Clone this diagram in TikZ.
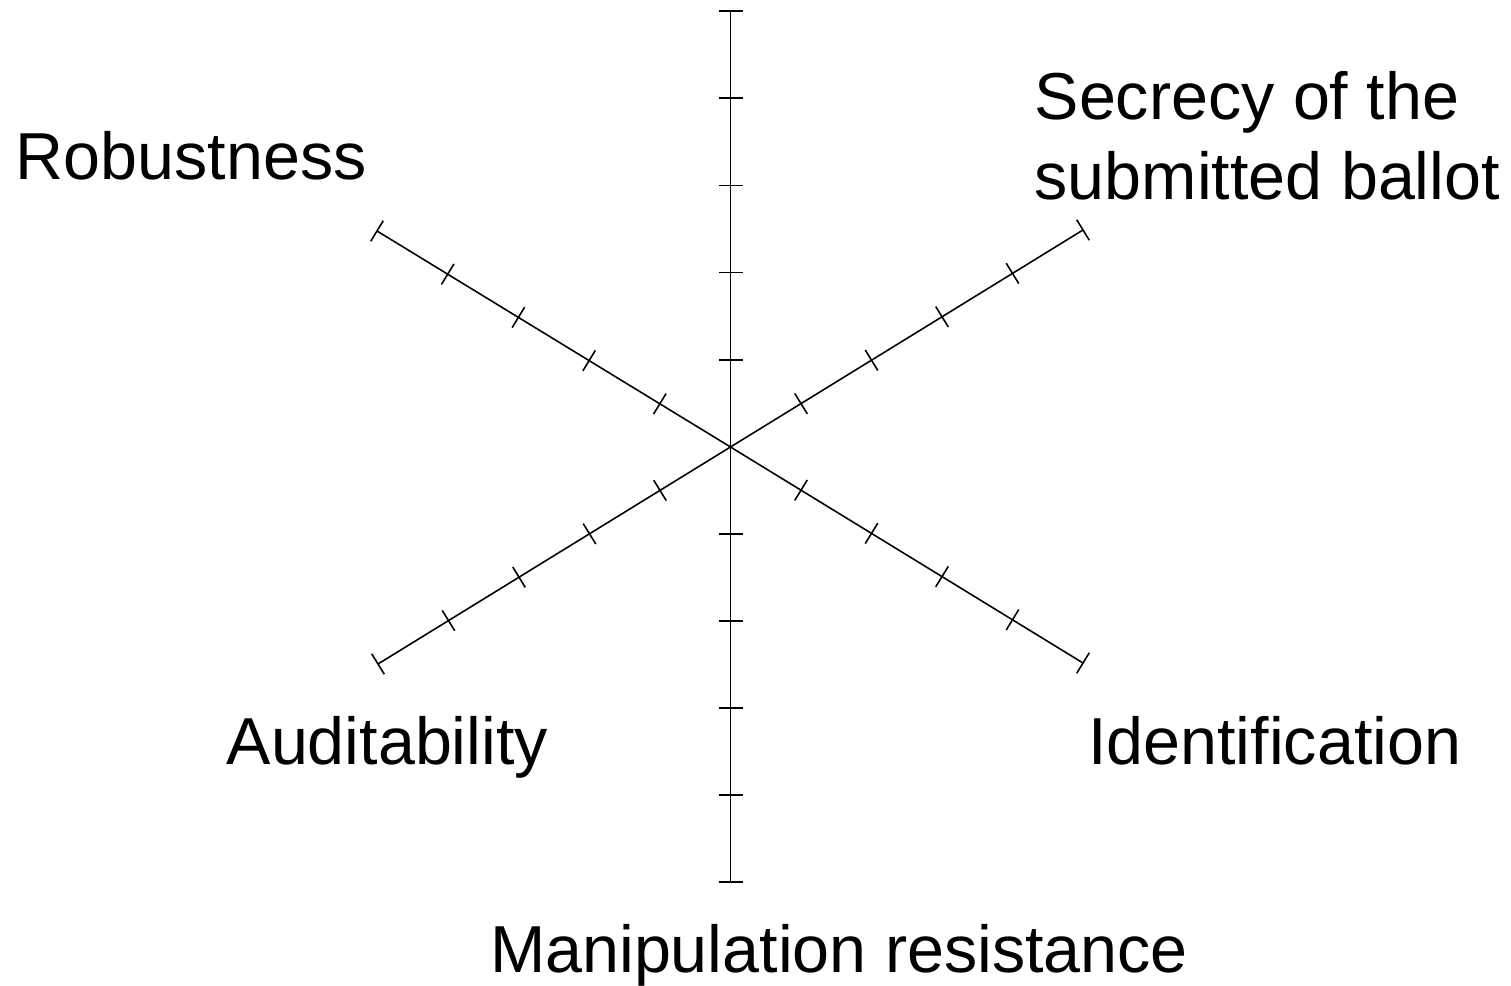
\documentclass[tikz,border=0pt]{standalone}
\usepackage{fontspec}
\setmainfont{Liberation Sans}
\usetikzlibrary{calc}
\tikzset{
  axislabel/.style={inner sep=0pt, font=\fontsize{18.9pt}{22.8pt}\selectfont},
  axisline/.style={line width=.45pt}
}
\begin{document}
\begin{tikzpicture}
        \useasboundingbox (-7.305,-5.38) rectangle (7.805,4.47);
        \coordinate (o) at (0,0);
        \coordinate (top) at (0,4.36);
        \coordinate (bot) at (0,-4.35);
        \coordinate (ne) at (3.525,2.17);
        \coordinate (nw) at (-3.535,2.16);
        \coordinate (se) at (3.525,-2.16);
        \coordinate (sw) at (-3.525,-2.17);
        \foreach \e in {top,bot,ne,nw,se,sw}{
          \draw[axisline] (o) -- (\e);
          \foreach \k in {1,...,5}
            \draw[axisline] ($(o)!\k/5!(\e)!0.12cm!90:(o)$) -- ($(o)!\k/5!(\e)!0.12cm!-90:(o)$);
        }

        \node[axislabel, anchor=base west] (robust) at (-7.155,2.67) {Robustness};
        \node[axislabel, anchor=base west, align=left] (secrecy) at (3.035,2.47) {Secrecy of the\\submitted ballot};
        \node[axislabel, anchor=base west] (audit) at (-5.045,-3.17) {Auditability};
        \node[axislabel, anchor=base west] (ident) at (3.57,-3.17) {Identification};
        \node[axislabel, anchor=base] (manip) at (1.085,-5.25) {Manipulation resistance};

      \end{tikzpicture}
\end{document}
